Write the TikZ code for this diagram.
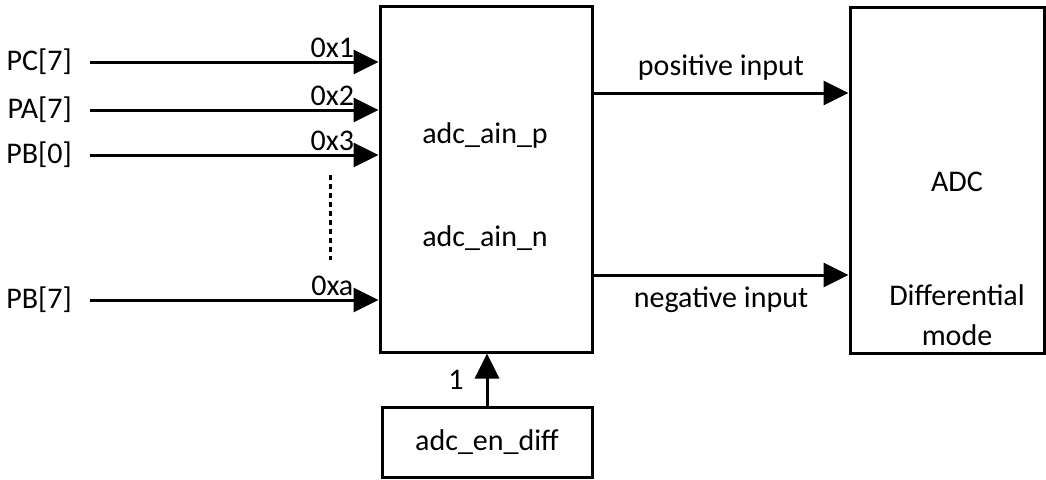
\documentclass[tikz,border=0pt]{standalone}
\usepackage{fontspec}
\setmainfont{Carlito}
\usetikzlibrary{arrows.meta,positioning}
\tikzset{
  sig/.style={line width=3pt,-{Triangle[length=25pt,width=24pt]}},
  blk/.style={draw,line width=3pt,inner sep=0pt},
  lbl/.style={inner sep=0pt}
}
\begin{document}
\begin{tikzpicture}[x=1pt,y=-1pt,font=\fontsize{30}{34}\selectfont]
\useasboundingbox (0,0) rectangle (1046,479);
% blocks
\node[blk,minimum width=212pt,minimum height=346pt] (mux) at (486,179) {};
\node[blk,minimum width=194pt,minimum height=346pt] (adc) at (947,180) {};
\node[blk,minimum width=210pt,minimum height=70pt] (en) at (487,442) {adc\_en\_diff};
\node[lbl] (ainp) at (485,135) {adc\_ain\_p};
\node[lbl] (ainn) at (485,238) {adc\_ain\_n};
\node[lbl] (adcname) at (957,182) {ADC};
\node[lbl] (diff) at (957,295) {Differential};
\node[lbl] (mode) at (957,335) {mode};
% inputs
\foreach \pin/\y/\sel [count=\i] in {PC[7]/62/0x1,PA[7]/110/0x2,PB[0]/155/0x3,PB[7]/300/0xa}{
  \node[lbl,anchor=east] (in\i) at (72,\y) {\pin};
  \coordinate (s\i) at (90,\y);
  \draw[sig] (s\i) -- (s\i -| mux.west)
    node[pos=.84,above=3pt,lbl] {\sel};
}
\draw[line width=3pt,dash pattern=on 5pt off 4pt] (330,175) -- (330,260);
% outputs
\draw[sig] ([yshift=86pt]mux.east) -- ([yshift=86pt]mux.east -| adc.west)
  node[midway,above=11pt,lbl] {positive input};
\draw[sig] ([yshift=-96pt]mux.east) -- ([yshift=-96pt]mux.east -| adc.west)
  node[midway,below=10pt,lbl] {negative input};
% enable
\draw[sig] (en.north) -- (en.north |- mux.south)
  node[midway,left=22pt,lbl] {1};
\end{tikzpicture}
\end{document}
